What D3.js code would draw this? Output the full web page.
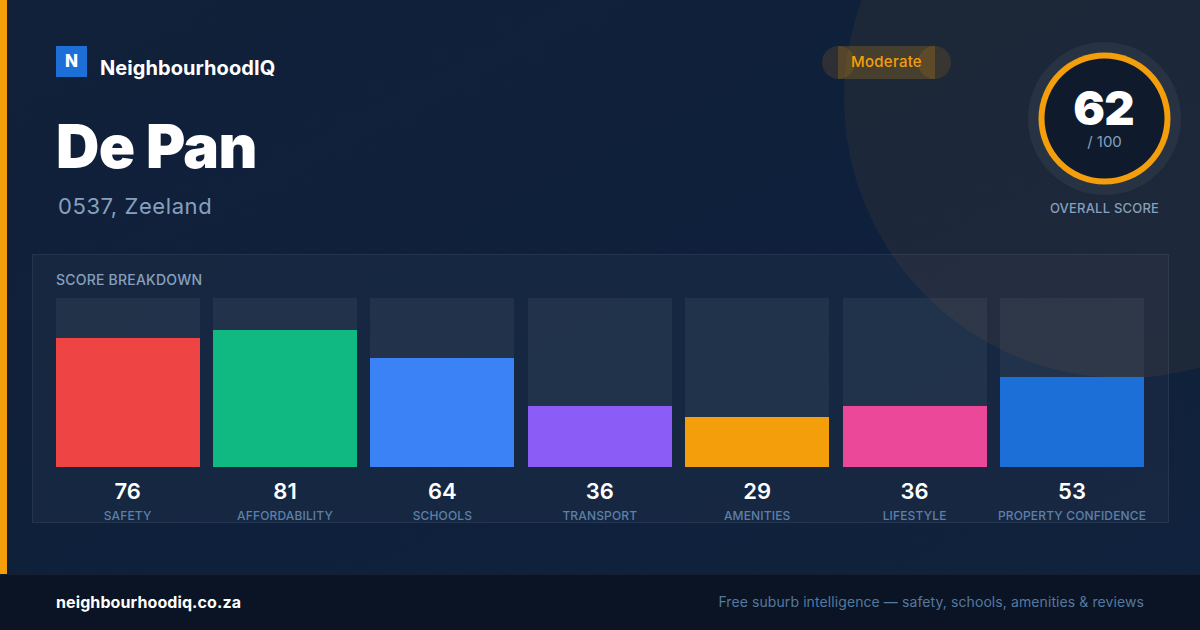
<!DOCTYPE html>
<html>
<head>
<meta charset="utf-8">
<script src="https://cdn.jsdelivr.net/npm/d3@7"></script>
<style>
  html, body { margin: 0; padding: 0; background: #0f1f38; overflow: hidden; }
  text { font-family: Inter, sans-serif; }
</style>
</head>
<body>
<div id="chart"></div>
<script>
const categories = ["SAFETY", "AFFORDABILITY", "SCHOOLS", "TRANSPORT", "AMENITIES", "LIFESTYLE", "PROPERTY CONFIDENCE"];
const scores = [76, 81, 64, 36, 29, 36, 53];
const barColors = ["#ef4444", "#10b981", "#3b82f6", "#8b5cf6", "#f59e0b", "#ec4899", "#1d6fd8"];
const overallScore = 62;

const width = 1200, height = 630;

const svg = d3.select("#chart").append("svg")
  .attr("width", width)
  .attr("height", height)
  .style("display", "block");

const defs = svg.append("defs");

const bgGrad = defs.append("linearGradient")
  .attr("id", "bg")
  .attr("x1", 0).attr("y1", 0).attr("x2", 1).attr("y2", 1);
bgGrad.append("stop").attr("offset", "0%").attr("stop-color", "#122039");
bgGrad.append("stop").attr("offset", "50%").attr("stop-color", "#0f203c");
bgGrad.append("stop").attr("offset", "100%").attr("stop-color", "#11223d");

const dots = defs.append("pattern")
  .attr("id", "dots")
  .attr("patternUnits", "userSpaceOnUse")
  .attr("x", 8).attr("y", 8)
  .attr("width", 32).attr("height", 32);
dots.append("circle")
  .attr("cx", 16).attr("cy", 16)
  .attr("r", 1)
  .attr("fill", "#ffffff")
  .attr("opacity", 0.03);

// background
svg.append("rect").attr("width", width).attr("height", height).attr("fill", "url(#bg)");
svg.append("circle")
  .attr("cx", 1124).attr("cy", 98).attr("r", 280)
  .attr("fill", "#f59e0b")
  .attr("opacity", 0.06);

// breakdown panel
svg.append("rect")
  .attr("x", 32.5).attr("y", 254.5)
  .attr("width", 1136).attr("height", 268)
  .attr("fill", "#ffffff").attr("fill-opacity", 0.03)
  .attr("stroke", "#ffffff").attr("stroke-opacity", 0.08);

svg.append("rect").attr("width", width).attr("height", 574).attr("fill", "url(#dots)");

// left stripe
svg.append("rect").attr("x", 0).attr("y", 0).attr("width", 7).attr("height", 574).attr("fill", "#f59e0b");

// footer
svg.append("rect").attr("x", 0).attr("y", 574).attr("width", width).attr("height", 56).attr("fill", "#0a1424");
svg.append("rect").attr("x", 0).attr("y", 574).attr("width", width).attr("height", 1).attr("fill", "#ffffff").attr("opacity", 0.05);

// logo + title
svg.append("rect").attr("x", 56).attr("y", 46).attr("width", 31).attr("height", 31).attr("fill", "#1d6fd8");
svg.append("text").attr("x", 71.5).attr("y", 67).attr("text-anchor", "middle")
  .attr("font-size", 17).attr("font-weight", 800).attr("fill", "#fff").text("N");
svg.append("text").attr("x", 100).attr("y", 75)
  .attr("font-size", 20).attr("font-weight", 700).attr("letter-spacing", 0.07).attr("fill", "#fff").text("NeighbourhoodIQ");
svg.append("text").attr("x", 56).attr("y", 168)
  .attr("font-size", 60).attr("font-weight", 900).attr("letter-spacing", -0.6).attr("fill", "#fff").text("De Pan");
svg.append("text").attr("x", 58).attr("y", 214)
  .attr("font-size", 22).attr("letter-spacing", 0.58).attr("fill", "#86a0be").text("0537, Zeeland");

// badge
svg.append("rect").attr("x", 838).attr("y", 46).attr("width", 97).attr("height", 33)
  .attr("fill", "#f59e0b").attr("opacity", 0.2);
[838.5, 934.5].forEach(cx => {
  svg.append("circle").attr("cx", cx).attr("cy", 62.5).attr("r", 16.5)
    .attr("fill", "#f59e0b").attr("opacity", 0.13);
});
svg.append("text").attr("x", 886.5).attr("y", 67).attr("text-anchor", "middle")
  .attr("font-size", 15).attr("font-weight", 500).attr("letter-spacing", 0.25).attr("fill", "#f59e0b").text("Moderate");

// score ring
svg.append("circle").attr("cx", 1104.5).attr("cy", 118.5).attr("r", 76.5)
  .attr("fill", "#ffffff").attr("opacity", 0.05);
svg.append("circle").attr("cx", 1104.5).attr("cy", 118.5).attr("r", 66)
  .attr("fill", "#f59e0b");
svg.append("circle").attr("cx", 1104.5).attr("cy", 118.5).attr("r", 60)
  .attr("fill", "#0f1b2d");
svg.append("text").attr("x", 1103.5).attr("y", 125).attr("text-anchor", "middle")
  .attr("font-size", 47).attr("font-weight", 900).attr("letter-spacing", -0.8).attr("fill", "#fff").text(overallScore);
svg.append("text").attr("x", 1104.5).attr("y", 147).attr("text-anchor", "middle")
  .attr("font-size", 15).attr("fill", "#86a0be").text("/ 100");
svg.append("text").attr("x", 1104.5).attr("y", 213).attr("text-anchor", "middle")
  .attr("font-size", 13).attr("font-weight", 500).attr("letter-spacing", 0.2).attr("fill", "#86a0be").text("OVERALL SCORE");

// bars
svg.append("text").attr("x", 56).attr("y", 285)
  .attr("font-size", 14).attr("font-weight", 500).attr("letter-spacing", 0.22).attr("fill", "#86a0be").text("SCORE BREAKDOWN");

const x = d3.scaleBand()
  .domain(categories)
  .range([56.1, 1144.5])
  .paddingInner(13.4 / 157.4);

const y = d3.scaleLinear()
  .domain([0, 100])
  .range([467, 298]);

const groups = svg.selectAll(".bar")
  .data(categories)
  .enter().append("g")
  .attr("class", "bar");

groups.append("rect")
  .attr("x", d => Math.floor(x(d)))
  .attr("y", y(100))
  .attr("width", 144)
  .attr("height", y(0) - y(100))
  .attr("fill", "#ffffff")
  .attr("opacity", 0.05)
  .attr("shape-rendering", "crispEdges");

groups.append("rect")
  .attr("x", d => Math.floor(x(d)))
  .attr("y", (d, i) => Math.floor(y(scores[i])))
  .attr("width", 144)
  .attr("height", (d, i) => y(0) - Math.floor(y(scores[i])))
  .attr("fill", (d, i) => barColors[i])
  .attr("shape-rendering", "crispEdges");

groups.append("text")
  .attr("x", d => x(d) + x.bandwidth() / 2 - 0.5)
  .attr("y", 499)
  .attr("text-anchor", "middle")
  .attr("font-size", 22)
  .attr("font-weight", 600)
  .attr("fill", "#fff")
  .text((d, i) => scores[i]);

groups.append("text")
  .attr("x", d => x(d) + x.bandwidth() / 2 - 0.5)
  .attr("y", 520)
  .attr("text-anchor", "middle")
  .attr("font-size", 12)
  .attr("font-weight", 500)
  .attr("letter-spacing", 0.15)
  .attr("fill", "#5d80a8")
  .text(d => d);

// footer text
svg.append("text").attr("x", 56).attr("y", 608)
  .attr("font-size", 16).attr("font-weight", 700).attr("letter-spacing", 0.1).attr("fill", "#fff").text("neighbourhoodiq.co.za");
svg.append("text").attr("x", 1144).attr("y", 607).attr("text-anchor", "end")
  .attr("font-size", 14).attr("letter-spacing", 0.09).attr("fill", "#55799f").text("Free suburb intelligence — safety, schools, amenities & reviews");
</script>
</body>
</html>
